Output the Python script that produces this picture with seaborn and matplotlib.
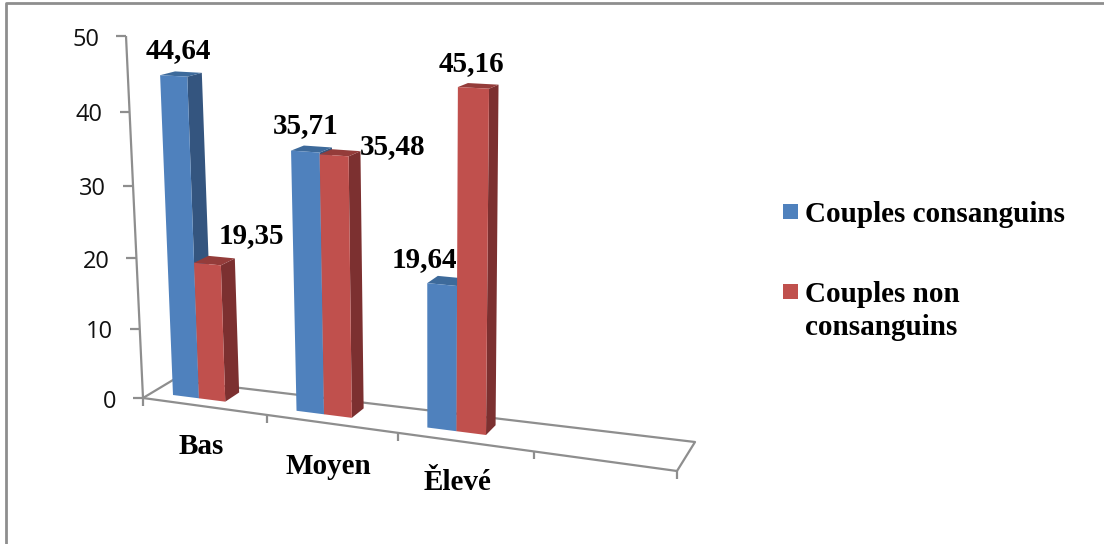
import numpy as np
import pandas as pd
import matplotlib
matplotlib.use("Agg")
import matplotlib.pyplot as plt
from matplotlib.patches import Polygon, Rectangle
from matplotlib.transforms import Affine2D, Transform
import seaborn as sns

# Survey values
niveaux = ["Bas", "Moyen", "Ělevé"]
groupes = ["Couples consanguins", "Couples non consanguins"]
consanguins = [44.64, 35.71, 19.64]
non_consanguins = [19.35, 35.48, 45.16]
graduations = [0, 10, 20, 30, 40, 50]

W, H = 1104, 544
BAR_WIDTH = 0.43
BLUE = dict(front="#4F81BD", side="#34557F", top="#3D6A9B")
RED = dict(front="#C0504D", side="#7C3030", top="#943C3A")
GRID = "#8E8E8E"
SERIF = "Liberation Serif"
SANS = "Open Sans"
LABEL_PT = 21


def homography(src, dst):
    """Solve the 3x3 projective map taking four src points onto four dst points."""
    rows, rhs = [], []
    for (u, v), (x, y) in zip(src, dst):
        rows.append([u, v, 1, 0, 0, 0, -u * x, -v * x])
        rows.append([0, 0, 0, u, v, 1, -u * y, -v * y])
        rhs += [x, y]
    h = np.linalg.solve(np.array(rows, float), np.array(rhs, float))
    return np.append(h, 1).reshape(3, 3)


class Projective(Transform):
    """Perspective view of a data plane, output in figure display pixels."""
    input_dims = output_dims = 2
    is_separable = False
    has_inverse = False

    def __init__(self, matrix):
        super().__init__()
        self.matrix = matrix

    def transform_non_affine(self, values):
        pts = np.column_stack([values, np.ones(len(values))]) @ self.matrix.T
        xy = pts[:, :2] / pts[:, 2:]
        return np.column_stack([xy[:, 0], H - xy[:, 1]])


half = BAR_WIDTH / 2
# Plane holding the front faces of the bars
bar_plane = Projective(homography(
    [(-half, 0), (2 + half, 0), (-half, 45), (2 + half, 45)],
    [(173, 395), (486, 435), (160, 72.5), (489, 90)],
))
# Plane of the value axis and the front edge of the floor
axis_plane = Projective(homography(
    [(-0.5, 0), (3.5, 0), (-0.5, 50), (3.5, 50)],
    [(143, 398), (677, 471), (126, 36), (692, 76)],
))
VANISH = np.array([1066.0, -156.0])  # depth lines converge here
DEPTH = 0.0165
pixels = Affine2D().scale(1, -1).translate(0, H)

sns.set_theme(style="white")
fig = plt.figure(figsize=(W / 100, H / 100), dpi=100, facecolor="white")
ax = fig.add_axes([0, 0, 1, 1])

table = pd.DataFrame({
    "niveau": niveaux * 2,
    "pct": consanguins + non_consanguins,
    "groupe": [groupes[0]] * 3 + [groupes[1]] * 3,
})
sns.barplot(data=table, x="niveau", y="pct", hue="groupe", order=niveaux,
            hue_order=groupes, palette=[BLUE["front"], RED["front"]],
            width=BAR_WIDTH, gap=0, saturation=1, legend=False, ax=ax)
ax.set_axis_off()


def receded(p):
    return p + DEPTH * (VANISH - p)


def line(points, **kw):
    xs, ys = zip(*points)
    ax.plot(xs, ys, transform=pixels, color=GRID, lw=kw.pop("lw", 1.6),
            clip_on=False, solid_capstyle="butt", zorder=kw.pop("zorder", 2))


def to_px(plane, u, v):
    p = plane.transform_non_affine(np.array([[u, v]], float))[0]
    return np.array([p[0], H - p[1]])


# Chart frame: only the top and left edges show
line([(6, H), (6, 3), (W, 3)], lw=2)

# Floor outline behind the bars
corner_l = to_px(axis_plane, -0.5, 0)
corner_r = to_px(axis_plane, 3.5, 0)
back_l, back_r = (173, 380), (695, 442)
line([corner_l, back_l, back_r, corner_r])
line([corner_l, corner_r], zorder=3)

# Value axis with its ticks and labels
line([to_px(axis_plane, -0.5, 0), to_px(axis_plane, -0.5, 50)], zorder=3)
for g in graduations:
    x, y = to_px(axis_plane, -0.5, g)
    line([(x - 10, y), (x, y)], zorder=3)
    ax.text(x - 27, y + 3.5, str(g), transform=pixels, ha="right", va="center",
            family=SANS, fontsize=17, color="#111111")

# Category ticks under the front edge of the floor
for u in np.arange(-0.5, 4):
    x, y = to_px(axis_plane, u, 0)
    line([(x, y), (x, y + 8)], zorder=3)

# Extrude every bar along the depth lines
n = len(niveaux)
for i, bar in enumerate(ax.patches):
    shade = BLUE if i < n else RED
    bar.set_transform(bar_plane)
    bar.set_clip_on(False)
    bar.set_linewidth(0)
    u0, u1, v = bar.get_x(), bar.get_x() + bar.get_width(), bar.get_height()
    bl, br = to_px(bar_plane, u0, 0), to_px(bar_plane, u1, 0)
    tl, tr = to_px(bar_plane, u0, v), to_px(bar_plane, u1, v)
    base = 5 + (i % n) * 3 + (i // n)
    for a, b, tone in ((br, tr, "side"), (tl, tr, "top")):
        ax.add_patch(Polygon((a, b, receded(b), receded(a)), closed=True, fc=shade[tone],
                             ec="none", transform=pixels, clip_on=False, zorder=base))
    bar.set_zorder(base + 0.5)

# Value labels
label_xy = [(178, 58), (306, 133), (424, 267), (251, 243), (393, 154), (471, 71)]
for value, (x, y) in zip(consanguins + non_consanguins, label_xy):
    ax.text(x, y, f"{value:.2f}".replace(".", ","), transform=pixels, ha="center",
            va="baseline", family=SERIF, weight="bold", fontsize=LABEL_PT,
            color="black", zorder=30)

# Category names
for name, (x, y) in zip(niveaux, [(201.5, 454), (328, 474), (458, 490)]):
    ax.text(x, y, name, transform=pixels, ha="center", va="baseline", family=SERIF,
            weight="bold", fontsize=LABEL_PT, color="black", zorder=30)

# Legend
for colour, y0 in zip((BLUE["front"], RED["front"]), (204, 284)):
    ax.add_patch(Rectangle((783, y0), 15, 15, fc=colour, ec="none", transform=pixels,
                           clip_on=False, zorder=30))
legend_lines = [("Couples consanguins", 222), ("Couples non", 302), ("consanguins", 335)]
for text, y in legend_lines:
    ax.text(805, y, text, transform=pixels, ha="left", va="baseline", family=SERIF,
            weight="bold", fontsize=LABEL_PT, color="black", zorder=30)

fig.savefig("out.png", dpi=100, facecolor="white")
